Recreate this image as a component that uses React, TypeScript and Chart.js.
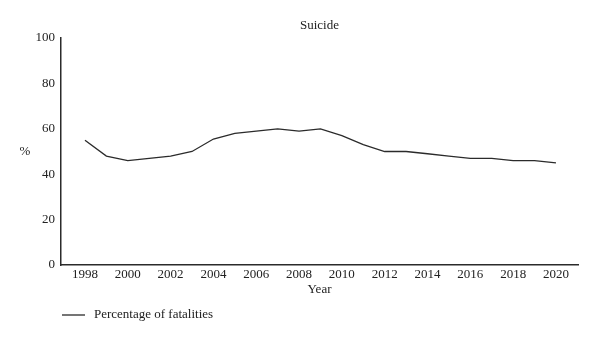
import React, { useEffect, useRef } from "react";
import { Chart, registerables } from "chart.js";

Chart.register(...registerables);

const years = [1998, 1999, 2000, 2001, 2002, 2003, 2004, 2005, 2006, 2007, 2008, 2009, 2010, 2011, 2012, 2013, 2014, 2015, 2016, 2017, 2018, 2019, 2020];
const fatalities = [55, 48, 46, 47, 48, 50, 55.5, 58, 59, 60, 59, 60, 57, 53, 50, 50, 49, 48, 47, 47, 46, 46, 45];
const titleText = "Suicide";
const seriesLabel = "Percentage of fatalities";
const yAxisLabel = "%";
const xAxisLabel = "Year";

const FONT = "'Liberation Serif', 'DejaVu Serif', serif";
const INK = "#2b2b2b";

const customText = {
  id: "customText",
  afterDraw(chart: any) {
    const { ctx, chartArea } = chart;
    ctx.save();
    ctx.fillStyle = "#222";
    ctx.font = `13px ${FONT}`;
    ctx.textAlign = "center";
    ctx.textBaseline = "middle";
    ctx.fillText(titleText, (chartArea.left + chartArea.right) / 2, 26);
    ctx.fillText(yAxisLabel, 25, (chartArea.top + chartArea.bottom) / 2);
    const ly = 315;
    ctx.strokeStyle = INK;
    ctx.lineWidth = 1.3;
    ctx.beginPath();
    ctx.moveTo(62, ly);
    ctx.lineTo(85, ly);
    ctx.stroke();
    ctx.textAlign = "left";
    ctx.fillText(chart.data.datasets[0].label, 94, ly);
    ctx.restore();
  },
};

export default function App() {
  const ref = useRef<HTMLCanvasElement | null>(null);
  useEffect(() => {
    if (!ref.current) return;
    const chart = new Chart(ref.current, {
      type: "line",
      data: {
        datasets: [
          {
            label: seriesLabel,
            data: years.map((y, i) => ({ x: y, y: fatalities[i] })),
            borderColor: INK,
            borderWidth: 1.3,
            pointRadius: 0,
            tension: 0,
            fill: false,
          },
        ],
      },
      options: {
        animation: false,
        responsive: false,
        layout: { padding: { top: 38, right: 22, bottom: 47, left: 0 } },
        plugins: {
          legend: { display: false },
          title: { display: false },
          tooltip: { enabled: false },
        },
        scales: {
          x: {
            type: "linear",
            min: 1996.88,
            max: 2021.03,
            grid: { display: false, drawTicks: false },
            border: { display: true, color: INK, width: 1.5 },
            ticks: {
              stepSize: 2,
              includeBounds: false,
              autoSkip: false,
              maxRotation: 0,
              padding: 3,
              color: "#222",
              font: { family: FONT, size: 13, lineHeight: 1 },
              callback: (v: any) => String(v),
            },
            title: {
              display: true,
              text: xAxisLabel,
              color: "#222",
              font: { family: FONT, size: 13, lineHeight: 1 },
              padding: { top: -1, bottom: 0 },
            },
          },
          y: {
            min: 0,
            max: 100,
            grid: { display: false, drawTicks: false },
            border: { display: true, color: INK, width: 1.5 },
            ticks: {
              stepSize: 20,
              padding: 6,
              color: "#222",
              font: { family: FONT, size: 13 },
            },
            afterFit: (scale: any) => {
              scale.width = 61;
            },
          },
        },
      },
      plugins: [customText],
    });
    return () => chart.destroy();
  }, []);
  return (
    <div style={{ position: "fixed", left: 0, top: 0, width: 600, height: 343, background: "#fff" }}>
      <canvas ref={ref} width={600} height={343} style={{ width: 600, height: 343 }} />
    </div>
  );
}
